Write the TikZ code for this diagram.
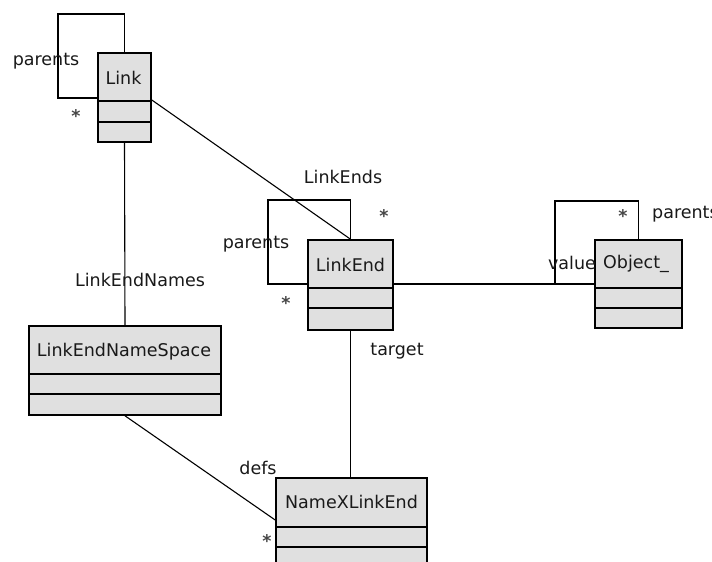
\documentclass[tikz,border=0pt]{standalone}
\usepackage{fontspec}
\setmainfont{DejaVu Sans}
\definecolor{boxgray}{RGB}{224,224,224}
\definecolor{ink}{RGB}{25,25,25}
\begin{document}
\begin{tikzpicture}[x=1pt,y=-1pt,
  box/.style={draw=black, line width=1.6pt, fill=boxgray, rectangle, inner sep=0pt},
  sepline/.style={draw=black, line width=1.6pt},
  conn/.style={draw=black, line width=1.1pt},
  lbl/.style={font=\fontsize{17.5}{20}\selectfont, text=ink, inner sep=0pt},
  mult/.style={font=\fontsize{17.5}{20}\selectfont\bfseries, text=ink!80, inner sep=0pt}]
\useasboundingbox (0,0) rectangle (712,562);
\clip (0,0) rectangle (712,562);
\fill[white] (0,0) rectangle (712,562);

% class boxes
\node[box, minimum width=53pt, minimum height=89pt] (link) at (124.5,97.5) {};
\node[lbl] (linkname) at (123.5,78) {Link};
\draw[sepline] (link.west |- 0,101) -- (link.east |- 0,101);
\draw[sepline] (link.west |- 0,122) -- (link.east |- 0,122);

\node[box, minimum width=85pt, minimum height=90pt] (linkend) at (350.5,285) {};
\node[lbl] (linkendname) at (350.5,265) {LinkEnd};
\draw[sepline] (linkend.west |- 0,288) -- (linkend.east |- 0,288);
\draw[sepline] (linkend.west |- 0,308) -- (linkend.east |- 0,308);

\node[box, minimum width=87pt, minimum height=88pt] (object) at (638.5,284) {};
\node[lbl] (objectname) at (636,264) {Object\_};
\draw[sepline] (object.west |- 0,288) -- (object.east |- 0,288);
\draw[sepline] (object.west |- 0,308) -- (object.east |- 0,308);

\node[box, minimum width=192pt, minimum height=89pt] (lens) at (125,370.5) {};
\node[lbl] (lensname) at (124,352) {LinkEndNameSpace};
\draw[sepline] (lens.west |- 0,374) -- (lens.east |- 0,374);
\draw[sepline] (lens.west |- 0,394) -- (lens.east |- 0,394);

\node[box, minimum width=151pt, minimum height=122pt] (nxle) at (351.5,539) {};
\node[lbl] (nxlename) at (351.5,502) {NameXLinkEnd};
\draw[sepline] (nxle.west |- 0,527) -- (nxle.east |- 0,527);
\draw[sepline] (nxle.west |- 0,547) -- (nxle.east |- 0,547);
\draw[sepline] (nxle.west |- 0,567) -- (nxle.east |- 0,567);

% connectors
\draw[conn] (link.north) |- (58,14) |- (link.west |- 0,98);
\draw[conn] (link.east |- 0,100) -- (linkend.north);
\draw[conn] (linkend.north) |- (268,200) |- (linkend.west |- 0,284);
\draw[conn] (linkend.east |- 0,284) -- (object.west |- 0,284);
\draw[conn] (object.north) |- (555,201) |- (object.west |- 0,284);
\draw[conn] (link.south) -- (lens.north);
\draw[conn] (lens.south) -- (nxle.west |- 0,520);
\draw[conn] (linkend.south) -- (linkend.south |- nxle.north);

% labels
\node[lbl] (l1) at (46,61) {parents};
\node[mult] (m1) at (76,116) {*};
\node[lbl] (l2) at (343,177) {LinkEnds};
\node[mult] (m2) at (384,216) {*};
\node[lbl] (l3) at (256,244) {parents};
\node[mult] (m3) at (286,303) {*};
\node[mult] (m4) at (623,216) {*};
\node[lbl, anchor=west] (l4) at (652,214) {parents};
\node[lbl] (l5) at (572,263) {value};
\node[lbl] (l6) at (140,280) {LinkEndNames};
\node[lbl] (l7) at (397,351) {target};
\node[lbl] (l8) at (258,468) {defs};
\node[mult] (m5) at (267,541) {*};
\end{tikzpicture}
\end{document}
